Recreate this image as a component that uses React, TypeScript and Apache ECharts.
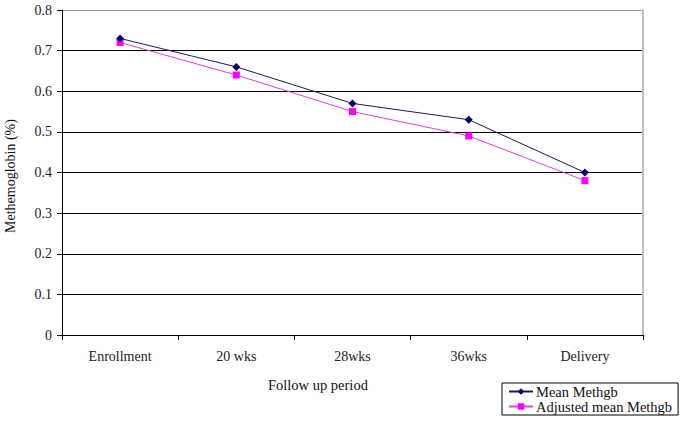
import React, { useEffect, useRef } from "react";
import * as echarts from "echarts";

const categories = ["Enrollment", "20 wks", "28wks", "36wks", "Delivery"];
const meanMethgb = [0.73, 0.66, 0.57, 0.53, 0.4];
const adjustedMeanMethgb = [0.72, 0.64, 0.55, 0.49, 0.38];
const seriesNames = ["Mean Methgb", "Adjusted mean Methgb"];

const FONT = "Liberation Serif";

export default function App() {
  const ref = useRef<HTMLDivElement>(null);
  useEffect(() => {
    if (!ref.current) return;
    const chart = echarts.init(ref.current, null, { renderer: "svg" });
    chart.setOption({
      animation: false,
      backgroundColor: "#ffffff",
      textStyle: { fontFamily: FONT },
      grid: { left: 62, right: 42, top: 10, bottom: 92, containLabel: false },
      xAxis: {
        type: "category",
        data: categories,
        boundaryGap: true,
        axisLine: { show: true, lineStyle: { color: "#000", width: 1 } },
        axisTick: { show: true, length: 5, inside: false, lineStyle: { color: "#000" } },
        axisLabel: { color: "#222", fontFamily: FONT, fontSize: 14, margin: 14 },
        splitLine: { show: false },
      },
      yAxis: [
        {
          type: "value",
          min: 0,
          max: 0.8,
          interval: 0.1,
          axisLine: { show: true, lineStyle: { color: "#000", width: 1 } },
          axisTick: { show: true, length: 5, inside: false, lineStyle: { color: "#000" } },
          axisLabel: {
            color: "#222",
            fontFamily: FONT,
            fontSize: 14,
            margin: 10,
            formatter: (v: number) => (v === 0 ? "0" : v.toFixed(1)),
          },
          splitLine: {
            show: true,
            lineStyle: {
              color: ["#000", "#000", "#000", "#000", "#000", "#000", "#000", "#000", "#999"],
              width: 1,
            },
          },
        },
        {
          type: "value",
          min: 0,
          max: 0.8,
          interval: 0.1,
          position: "right",
          axisLine: { show: true, lineStyle: { color: "#c0c0c0", width: 2 } },
          axisTick: { show: false },
          axisLabel: { show: false },
          splitLine: { show: false },
        },
      ],
      legend: {
        orient: "vertical",
        left: 502,
        top: 383,
        width: 177,
        borderColor: "#000",
        borderWidth: 1,
        borderRadius: 0,
        padding: [1, 6, 1, 6],
        itemGap: 0,
        itemWidth: 24,
        itemHeight: 8,
        textStyle: { fontFamily: FONT, fontSize: 14.5, color: "#111", padding: [0, 0, 0, -2] },
        data: seriesNames,
      },
      series: [
        {
          name: seriesNames[0],
          type: "line",
          data: meanMethgb,
          symbol: "diamond",
          symbolSize: 8,
          itemStyle: { color: "#000066" },
          lineStyle: { color: "#1a1a5e", width: 1 },
          z: 3,
        },
        {
          name: seriesNames[1],
          type: "line",
          data: adjustedMeanMethgb,
          symbol: "rect",
          symbolSize: 7,
          itemStyle: { color: "#ff00ff" },
          lineStyle: { color: "#e040e0", width: 1 },
          z: 2,
        },
      ],
      graphic: [
        {
          type: "text",
          left: 268,
          top: 377,
          style: { text: "Follow up period", font: `14.5px ${FONT}`, fill: "#111" },
        },
        {
          type: "text",
          x: 3,
          y: 233,
          rotation: Math.PI / 2,
          style: { text: "Methemoglobin (%)", font: `14px ${FONT}`, fill: "#111" },
        },
      ],
    });
    return () => chart.dispose();
  }, []);
  return (
    <div
      ref={ref}
      style={{ position: "fixed", left: 0, top: 0, width: 685, height: 427 }}
    />
  );
}
